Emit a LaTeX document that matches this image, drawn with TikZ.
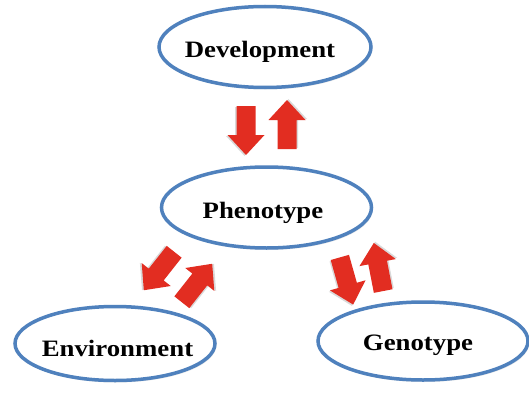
\documentclass[tikz,border=0pt]{standalone}
\usepackage{fontspec}
\setmainfont{Liberation Serif}
\usepackage{graphicx}
\usetikzlibrary{shapes.geometric,shadows}
\definecolor{ellblue}{RGB}{79,129,189}
\definecolor{arrred}{RGB}{226,45,33}
\tikzset{
  oval/.style={ellipse, draw=ellblue, line width=3.5pt, fill=white, inner sep=0pt,
    drop shadow={shadow xshift=1.2pt, shadow yshift=-2pt, opacity=0.18}},
  lbl/.style={font=\fontsize{23.5}{28}\selectfont\bfseries, anchor=base, inner sep=0pt},
  blockarrow/.pic={
    \fill[black, opacity=0.15, shift={(1pt,-1.5pt)}] (-24.5,-9.5) -- (4.5,-9.5) -- (4.5,-18.5) -- (24.5,0) -- (4.5,18.5) -- (4.5,9.5) -- (-24.5,9.5) -- cycle;
    \fill[arrred] (-24.5,-9.5) -- (4.5,-9.5) -- (4.5,-18.5) -- (24.5,0) -- (4.5,18.5) -- (4.5,9.5) -- (-24.5,9.5) -- cycle;
  }
}
\begin{document}
\begin{tikzpicture}[x=1pt,y=1pt]
\useasboundingbox[fill=white] (0,0) rectangle (529,392);
\node[oval, minimum width=212, minimum height=81] (dev) at (265,345) {};
\node[oval, minimum width=210, minimum height=81] (phe) at (266.5,184.5) {};
\node[oval, minimum width=200, minimum height=74] (env) at (115,48.5) {};
\node[oval, minimum width=210, minimum height=78] (gen) at (423,51) {};
\node[lbl] (devt) at (260,335) {\scalebox{1.14}[1]{Development}};
\node[lbl] (phet) at (263,174) {\scalebox{1.14}[1]{Phenotype}};
\node[lbl] (envt) at (117.5,35.5) {\scalebox{1.14}[1]{Environment}};
\node[lbl] (gent) at (418,42) {\scalebox{1.14}[1]{Genotype}};
% block arrows
\pic[rotate=-90] at (246,261.5) {blockarrow};
\pic[rotate=90] at (287,267.5) {blockarrow};
\pic[rotate=231.7] at (159,121) {blockarrow};
\pic[rotate=51.7] at (197,109) {blockarrow};
\pic[rotate=-74.2] at (346.5,111) {blockarrow};
\pic[rotate=101] at (378.5,125) {blockarrow};
\end{tikzpicture}
\end{document}
